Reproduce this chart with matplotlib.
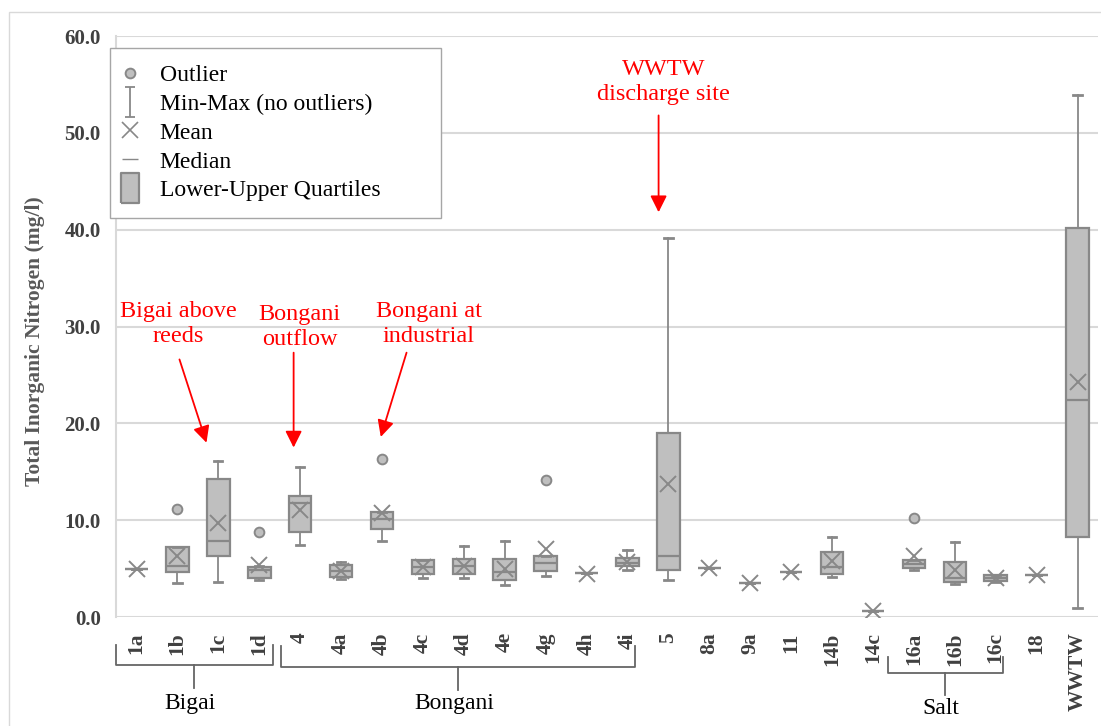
import matplotlib.pyplot as plt
import numpy as np
from matplotlib.lines import Line2D
from matplotlib.path import Path
from matplotlib.patches import Rectangle
from matplotlib.transforms import blended_transform_factory

# Total inorganic nitrogen per sampling site (mg/l)
sites = ['1a', '1b', '1c', '1d', '4', '4a', '4b', '4c', '4d', '4e', '4g',
         '4h', '4i', '5', '8a', '9a', '11', '14b', '14c', '16a', '16b',
         '16c', '18', 'WWTW']
q1 = [5.0, 4.7, 6.3, 4.0, 8.8, 4.1, 9.1, 4.4, 4.4, 3.85, 4.8, 4.5, 5.3,
      4.9, 5.1, 3.5, 4.6, 4.4, 0.6, 5.1, 3.65, 3.7, 4.3, 8.3]
median = [5.0, 5.3, 7.9, 4.9, 11.8, 4.8, 10.1, 5.2, 5.3, 4.7, 5.6, 4.5, 5.6,
          6.3, 5.1, 3.5, 4.6, 5.2, 0.6, 5.5, 4.05, 4.0, 4.3, 22.4]
q3 = [5.0, 7.2, 14.3, 5.2, 12.5, 5.4, 10.8, 5.9, 6.0, 6.0, 6.3, 4.5, 6.1,
      19.0, 5.1, 3.5, 4.6, 6.7, 0.6, 5.9, 5.65, 4.3, 4.3, 40.2]
minimum = [5.0, 3.5, 3.6, 3.8, 7.4, 3.9, 7.9, 4.0, 4.0, 3.3, 4.2, 4.5, 4.9,
           3.8, 5.1, 3.5, 4.6, 4.1, 0.6, 4.9, 3.4, 3.6, 4.3, 0.9]
maximum = [5.0, 7.2, 16.1, 5.3, 15.5, 5.7, 10.8, 5.9, 7.3, 7.8, 6.3, 4.5, 6.9,
           39.1, 5.1, 3.5, 4.6, 8.3, 0.6, 5.9, 7.7, 4.3, 4.3, 53.9]
mean = [5.0, 6.3, 9.7, 5.35, 11.1, 4.8, 10.7, 5.2, 5.3, 5.0, 7.0, 4.4, 5.7,
        13.7, 5.1, 3.5, 4.6, 5.8, 0.6, 6.3, 4.9, 4.0, 4.3, 24.3]
outliers = {'1b': [11.2], '1d': [8.8], '4b': [16.3], '4g': [14.1],
            '16a': [10.2]}

# river groups: (name, first site, last site)
groups = [('Bigai', '1a', '1d'), ('Bongani', '4', '4i'), ('Salt', '16a', '16c')]

SERIF = 'Liberation Serif'
BOX_FACE = '#bfbfbf'
BOX_EDGE = '#888888'
GRID = '#d9d9d9'

fig = plt.figure(figsize=(11.01, 7.26), dpi=100)
ax = fig.add_axes([0.1054, 0.1501, 0.8919, 0.8003])

stats = []
for i, s in enumerate(sites):
    stats.append(dict(label=s, q1=q1[i], med=median[i], q3=q3[i],
                      whislo=minimum[i], whishi=maximum[i], mean=mean[i],
                      fliers=outliers.get(s, [])))

ax.bxp(stats, positions=np.arange(len(sites)), widths=0.55,
       capwidths=0.2, showmeans=True, patch_artist=True,
       boxprops=dict(facecolor=BOX_FACE, edgecolor=BOX_EDGE, linewidth=1.6),
       medianprops=dict(color=BOX_EDGE, linewidth=1.6),
       whiskerprops=dict(color=BOX_EDGE, linewidth=1.3),
       capprops=dict(color=BOX_EDGE, linewidth=2.0),
       meanprops=dict(marker='x', markersize=11, markeredgewidth=1.4,
                      markeredgecolor=BOX_EDGE, linestyle='none'),
       flierprops=dict(marker='o', markersize=7, markerfacecolor=BOX_FACE,
                       markeredgecolor=BOX_EDGE, markeredgewidth=1.4))

ax.set_xlim(-0.5, len(sites) - 0.5)
ax.set_ylim(0, 60)
ax.set_yticks(np.arange(0, 61, 10))
ax.set_yticklabels([f'{v:.1f}' for v in np.arange(0, 61, 10)])
ax.grid(True, axis='y', color=GRID, linewidth=1.5)
ax.set_axisbelow(True)
for side in ['top', 'right', 'bottom']:
    ax.spines[side].set_visible(False)
ax.spines['left'].set_color(GRID)
ax.spines['left'].set_linewidth(1.5)
ax.tick_params(axis='both', length=0)
ax.tick_params(axis='y', pad=11)
ax.tick_params(axis='x', pad=11)
for t in ax.get_yticklabels():
    t.set_fontfamily(SERIF)
    t.set_fontsize(15)
    t.set_fontweight('bold')
    t.set_color('#404040')
for t in ax.get_xticklabels():
    t.set_fontfamily(SERIF)
    t.set_fontsize(15.5)
    t.set_fontweight('bold')
    t.set_color('#404040')
    t.set_rotation(90)
    t.set_va('top')

fig.text(35.5 / 1101, 0.530, 'Total Inorganic Nitrogen (mg/l)', rotation=90,
         ha='center', va='center', fontsize=15.5, fontweight='bold',
         family=SERIF, color='#595959')

# red call-outs
notes = [('Bigai above\nreeds', (1.03, 30.3), (1.05, 26.6), (1.71, 18.0)),
         ('Bongani\noutflow', (3.99, 30.0), (3.84, 27.3), (3.84, 17.5)),
         ('Bongani at\nindustrial', (7.14, 30.3), (6.6, 27.3), (5.97, 18.6)),
         ('WWTW\ndischarge site', (12.89, 55.2), (12.76, 51.8), (12.76, 41.8))]
for text, txy, start, tip in notes:
    ax.text(txy[0], txy[1], text, ha='center', va='center', color='red',
            fontsize=17.5, family=SERIF, linespacing=1.25)
    ax.annotate('', xy=tip, xytext=start,
                arrowprops=dict(arrowstyle='-|>,head_length=0.5,head_width=0.25',
                                color='red', lw=1.3, mutation_scale=20,
                                shrinkA=0, shrinkB=0))

# group brackets under the site labels
tr = blended_transform_factory(ax.transData, ax.transAxes)
bracket_x = {'Bigai': (-0.5, 0.33), 'Bongani': (-0.46, 0.18),
             'Salt': (-0.64, 0.17)}
bracket_y = {'Bigai': (-0.048, -0.083, -0.122, -0.148),
             'Bongani': (-0.050, -0.086, -0.126, -0.148),
             'Salt': (-0.069, -0.096, -0.134, -0.157)}
for name, first, last in groups:
    dx0, dx1 = bracket_x[name]
    x0 = sites.index(first) + dx0
    x1 = sites.index(last) + dx1
    xc = (x0 + x1) / 2
    ytop, yh, ytip, ylab = bracket_y[name]
    ax.plot([x0, x0, x1, x1], [ytop, yh, yh, ytop], transform=tr,
            color='#666666', lw=1.3, clip_on=False)
    ax.plot([xc, xc], [yh, ytip], transform=tr, color='#666666', lw=1.3,
            clip_on=False)
    ax.text(xc - 0.1, ylab, name, transform=tr, ha='center', va='center',
            fontsize=17, family=SERIF, color='black')

# legend handles
rect = Path([(-0.32, -0.5), (0.32, -0.5), (0.32, 0.5), (-0.32, 0.5),
             (-0.32, -0.5)])
ibeam = Path([(-0.33, 1), (0.33, 1), (0, 1), (0, -1), (-0.33, -1), (0.33, -1)],
             [Path.MOVETO, Path.LINETO, Path.MOVETO, Path.LINETO,
              Path.MOVETO, Path.LINETO])
handles = [
    Line2D([], [], linestyle='none', marker='o', markersize=7,
           markerfacecolor=BOX_FACE, markeredgecolor=BOX_EDGE,
           markeredgewidth=1.4),
    Line2D([], [], linestyle='none', marker=ibeam, markersize=21,
           markeredgecolor=BOX_EDGE, markeredgewidth=1.3, fillstyle='none'),
    Line2D([], [], linestyle='none', marker='x', markersize=11,
           markeredgecolor=BOX_EDGE, markeredgewidth=1.2),
    Line2D([], [], linestyle='none', marker='_', markersize=11,
           markeredgecolor=BOX_EDGE, markeredgewidth=1.0),
    Line2D([], [], linestyle='none', marker=rect, markersize=21,
           markerfacecolor=BOX_FACE, markeredgecolor=BOX_EDGE,
           markeredgewidth=1.6),
]
names = ['Outlier', 'Min-Max (no outliers)', 'Mean', 'Median',
         'Lower-Upper Quartiles']
leg = ax.legend(handles, names, loc='upper left',
                bbox_to_anchor=(110 / 1101, 1 - 48 / 726, 331 / 1101, 0.0),
                bbox_transform=fig.transFigure, mode='expand',
                borderaxespad=0, prop=dict(family=SERIF, size=17),
                handlelength=0.3, handletextpad=1.1, labelspacing=0.31,
                borderpad=0.7, fancybox=False, framealpha=1)
leg.get_frame().set_edgecolor('#a6a6a6')
leg.get_frame().set_linewidth(1.0)

# light outer frame of the chart area
fig.patches.append(Rectangle((9 / 1101, -0.1), 2.0, 1.1 - 12 / 726,
                             transform=fig.transFigure, fill=False,
                             edgecolor=GRID, linewidth=1.0))

fig.savefig('out.png', dpi=100)
